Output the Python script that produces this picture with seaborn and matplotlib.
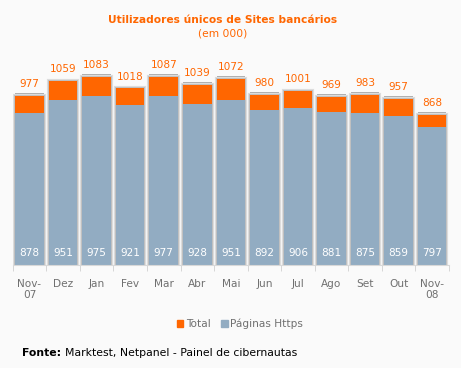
import numpy as np
import pandas as pd
import seaborn as sns
import matplotlib.pyplot as plt
import matplotlib.patheffects as pe
from matplotlib.patches import Patch

months = ['Nov-\n07', 'Dez', 'Jan', 'Fev', 'Mar', 'Abr', 'Mai', 'Jun',
          'Jul', 'Ago', 'Set', 'Out', 'Nov-\n08']
total = [977, 1059, 1083, 1018, 1087, 1039, 1072, 980, 1001, 969, 983, 957, 868]
https = [878, 951, 975, 921, 977, 928, 951, 892, 906, 881, 875, 859, 797]

orange = '#ff6600'
blue = '#92acc2'
bg = '#fafafa'

df = pd.DataFrame({'mes': months, 'Total': total, 'Páginas Https': https})

sns.set_style('white')
plt.rcParams['font.family'] = ['DejaVu Sans']

fig = plt.figure(figsize=(4.61, 3.68), dpi=100, facecolor=bg)
ax = fig.add_axes([12.7 / 461, 1 - 265 / 368, 436.3 / 461, 215 / 368])
ax.set_facecolor(bg)

# total bar behind, with a soft grey shadow round it
sns.barplot(data=df, x='mes', y='Total', color=orange, width=0.85,
            saturation=1, linewidth=0, edgecolor='none', ax=ax)
n = len(months)
for p in ax.patches[:n]:
    p.set_path_effects([
        pe.SimplePatchShadow(offset=(0, 2.0), shadow_rgbFace='#a0a0a0', alpha=0.85),
        pe.Stroke(linewidth=3.0, foreground='#dcdcdc'),
        pe.Stroke(linewidth=1.4, foreground='#c0c0c0'),
        pe.Normal()])
sns.barplot(data=df, x='mes', y='Páginas Https', color=blue, width=0.85,
            saturation=1, linewidth=0, edgecolor='none', ax=ax)

for i in range(n):
    ax.annotate(str(total[i]), (i, total[i]), xytext=(0, 8.6), textcoords='offset points',
                ha='center', va='center', color=orange, fontsize=7.6)
    ax.annotate(str(https[i]), (i, 0), xytext=(0, 8.6), textcoords='offset points',
                ha='center', va='center', color='white', fontsize=7.6)

ax.set_ylim(0, 1240)
ax.set_xlim(-0.5, n - 0.5)
ax.set_xlabel('')
ax.set_ylabel('')
ax.set_yticks([])
for s in ['top', 'right', 'left']:
    ax.spines[s].set_visible(False)
ax.spines['bottom'].set_color('#d8d8d8')
ax.set_xticks(np.arange(-0.5, n), minor=True)
ax.tick_params(axis='x', which='minor', length=4, color='#d0d0d0', direction='out', bottom=True)
ax.tick_params(axis='x', which='major', length=0, pad=10, labelsize=7.6, labelcolor='#707070')

fig.text(223 / 461, 1 - 20 / 368, 'Utilizadores únicos de Sites bancários', ha='center',
         va='center', color=orange, fontsize=7.7, fontweight='bold')
fig.text(223 / 461, 1 - 33 / 368, '(em 000)', ha='center', va='center',
         color=orange, fontsize=7.7)

handles = [Patch(color=orange, label='Total'), Patch(color=blue, label='Páginas Https')]
fig.legend(handles=handles, loc='center', bbox_to_anchor=(240 / 461, 1 - 324 / 368),
           ncol=2, frameon=False, fontsize=7.6, handlelength=0.6, handleheight=0.6,
           handletextpad=0.25, columnspacing=1.0, labelcolor='#707070')

t1 = fig.text(22 / 461, 1 - 353 / 368, 'Fonte:', ha='left', va='center',
              fontsize=7.8, fontweight='bold', color='black')
ax.annotate('Marktest, Netpanel - Painel de cibernautas', xy=(1, 0.5), xycoords=t1,
            xytext=(3, 0), textcoords='offset points', ha='left', va='center',
            fontsize=7.8, color='black', annotation_clip=False)

fig.savefig('out.png', dpi=100, facecolor=bg)
